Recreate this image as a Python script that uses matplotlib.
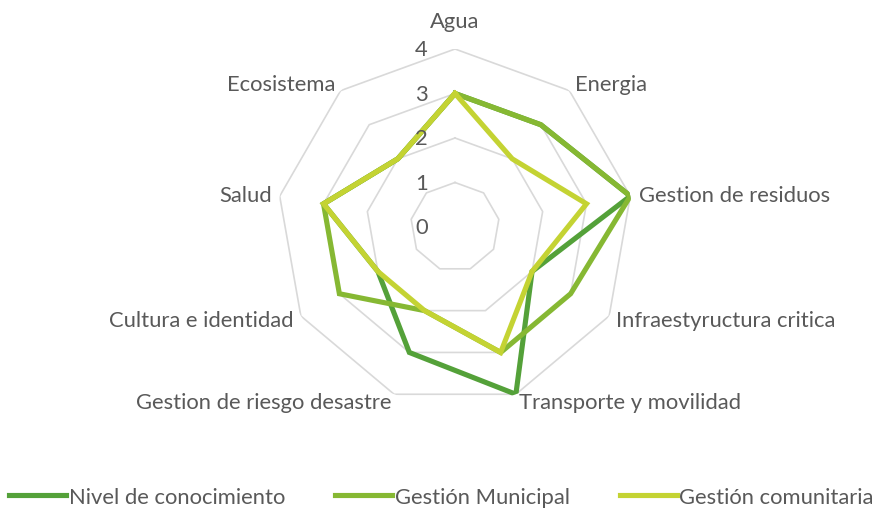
import numpy as np
import matplotlib
matplotlib.use("Agg")
import matplotlib.pyplot as plt

categories = ["Agua", "Energia", "Gestion de residuos", "Infraestyructura critica",
              "Transporte y movilidad", "Gestion de riesgo desastre",
              "Cultura e identidad", "Salud", "Ecosistema"]
nivel = [3, 3, 4, 2, 4, 3, 2, 3, 2]
municipal = [3, 3, 4, 3, 3, 2, 3, 3, 2]
comunitaria = [3, 2, 3, 2, 3, 2, 2, 3, 2]
series_names = ["Nivel de conocimiento", "Gestión Municipal", "Gestión comunitaria"]
ticks = [0, 1, 2, 3, 4]

colors = ["#54a139", "#86b833", "#c4d333"]
text_color = "#595959"
grid_color = "#d9d9d9"
plt.rcParams['font.family'] = ['Lato', 'DejaVu Sans']

W, H = 883, 510
fig = plt.figure(figsize=(W / 100, H / 100), dpi=100)
cx, cy, R = 455, 228, 178
ax = fig.add_axes([(cx - R) / W, (H - cy - R) / H, 2 * R / W, 2 * R / H], projection='polar')
ax.set_theta_zero_location('N')
ax.set_theta_direction(-1)
ax.set_ylim(0, 4)
ax.grid(False)
ax.spines['polar'].set_visible(False)
ax.set_xticks([])
ax.set_yticks([])
ax.patch.set_alpha(0)

n = len(categories)
angles = np.linspace(0, 2 * np.pi, n, endpoint=False)
closed = np.concatenate([angles, angles[:1]])

for t in ticks[1:]:
    ax.plot(closed, [t] * (n + 1), color=grid_color, lw=1.2, zorder=1)

for vals, c, name in zip([nivel, municipal, comunitaria], colors, series_names):
    ax.plot(closed, list(vals) + [vals[0]], color=c, lw=3.7, label=name,
            solid_joinstyle='miter', zorder=3)

FS = 15.8
for t in ticks:
    ax.annotate(str(t), xy=(0, t), xytext=(-24, 0), textcoords='offset points',
                ha='center', va='center', fontsize=FS, color=text_color)

for a, lab in zip(angles, categories):
    s, c = np.sin(a), np.cos(a)
    if abs(s) < 0.05:
        ha = 'center'
        off = (0, 20)
    else:
        ha = 'left' if s > 0 else 'right'
        off = (6 * s, 6 * c)
    ax.annotate(lab, xy=(a, 4), xytext=off, textcoords='offset points',
                ha=ha, va='center', fontsize=FS, color=text_color, annotation_clip=False)

leg = fig.legend(loc='lower center', bbox_to_anchor=(0.5, -0.035), ncol=3, frameon=False,
                 fontsize=15.8, handlelength=2.6, handletextpad=0.1, columnspacing=2.3,
                 labelcolor=text_color)
fig.savefig("out.png", dpi=100)
